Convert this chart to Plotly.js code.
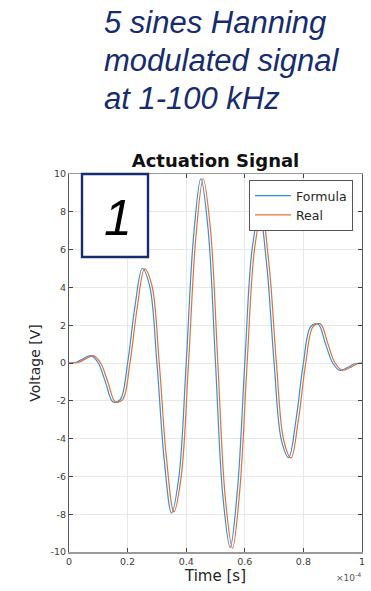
<!DOCTYPE html>
<html>
<head>
<meta charset="utf-8">
<script src="https://cdn.plot.ly/plotly-3.0.1.min.js"></script>
<style>
  html, body { margin: 0; padding: 0; background: #ffffff; }
  #chart { width: 371px; height: 591px; }
</style>
</head>
<body>
<div id="chart"></div>
<script>
// Time in units of 1e-4 s (axis shows the x10^-4 multiplier)
const timeFormula = [
  0, 0.025, 0.05, 0.075, 0.1, 0.125, 0.15, 0.175, 0.2, 0.225,
  0.25, 0.275, 0.3, 0.325, 0.35, 0.375, 0.4, 0.425, 0.45, 0.475,
  0.5, 0.525, 0.55, 0.575, 0.6, 0.625, 0.65, 0.675, 0.7, 0.725,
  0.75, 0.775, 0.8, 0.825, 0.85, 0.875, 0.9, 0.925, 0.95, 0.975, 1.0
];
const voltageFormula = [
  0, 0.04, 0.24, 0.39, 0, -1.04, -2.06, -1.93, 0, 2.98,
  5.0, 4.09, 0, -5.14, -7.94, -6.03, 0, 6.68, 9.76, 7.03,
  0, -7.03, -9.76, -6.68, 0, 6.03, 7.94, 5.14, 0, -4.09,
  -5.0, -2.98, 0, 1.93, 2.06, 1.04, 0, -0.39, -0.24, -0.04, 0
];
const timeReal = [
  0, 0.008, 0.033, 0.058, 0.083, 0.108, 0.133, 0.158, 0.183, 0.208,
  0.233, 0.258, 0.283, 0.308, 0.333, 0.358, 0.383, 0.408, 0.433, 0.458,
  0.483, 0.508, 0.533, 0.558, 0.583, 0.608, 0.633, 0.658, 0.683, 0.708,
  0.733, 0.758, 0.783, 0.808, 0.833, 0.858, 0.883, 0.908, 0.933, 0.958,
  0.983, 1.0
];
const voltageReal = [
  0, 0, 0.04, 0.23, 0.39, 0, -1.02, -2.05, -1.94, 0,
  2.95, 4.98, 4.1, 0, -5.1, -7.88, -6.0, 0, 6.65, 9.75,
  7.05, 0, -7.05, -9.8, -6.7, 0, 6.0, 7.9, 5.15, 0,
  -4.1, -5.02, -3.0, 0, 1.92, 2.07, 1.05, 0, -0.38, -0.25,
  -0.05, 0
];
const seriesNames = ['Formula', 'Real'];
const xTickVals = [0, 0.2, 0.4, 0.6, 0.8, 1];
const xTickText = ['0', '0.2', '0.4', '0.6', '0.8', '1'];
const yTickVals = [-10, -8, -6, -4, -2, 0, 2, 4, 6, 8, 10];
const yTickText = ['-10', '-8', '-6', '-4', '-2', '0', '2', '4', '6', '8', '10'];
const headingLines = ['5 sines Hanning', 'modulated signal', 'at 1-100 kHz'];
const chartTitle = 'Actuation Signal';
const xTitle = 'Time [s]';
const yTitle = 'Voltage [V]';
const xExponent = '\u00d710<sup>-4</sup>';
const panelNumber = '1';

// Page geometry
const W = 371, H = 591;
const margin = { l: 69, r: 9, t: 174, b: 39, pad: 0 };
const plotW = W - margin.l - margin.r;
const plotH = H - margin.t - margin.b;
const px = x => (x - margin.l) / plotW;   // pixel x -> paper x
const py = y => (H - margin.b - y) / plotH; // pixel y -> paper y

const blue = '#3b8fd2';
const orange = '#e2703c';
const navy = '#172c6e';
const chartFont = 'DejaVu Sans, Arial, sans-serif';
const slideFont = 'Liberation Sans, Arial, sans-serif';

const traces = [
  {
    x: timeFormula, y: voltageFormula, name: seriesNames[0],
    type: 'scatter', mode: 'lines',
    line: { color: blue, width: 1.2, shape: 'spline', smoothing: 1 }
  },
  {
    x: timeReal, y: voltageReal, name: seriesNames[1],
    type: 'scatter', mode: 'lines',
    line: { color: orange, width: 1.2, shape: 'spline', smoothing: 1 }
  }
];

const axisCommon = {
  showgrid: true, gridcolor: '#e8e8e8', gridwidth: 1,
  zeroline: false,
  ticks: 'inside', ticklen: 4, tickwidth: 1, tickcolor: '#444444',
  showline: true, mirror: 'ticks',
  tickfont: { family: chartFont, size: 9.5, color: '#3c3c3c' },
  automargin: false
};

const headingAnnotations = headingLines.map((line, i) => ({
  xref: 'paper', yref: 'paper',
  x: px(102), y: py(22 + i * 38.3),
  xanchor: 'left', yanchor: 'middle',
  text: '<i>' + line + '</i>',
  showarrow: false,
  font: { family: slideFont, size: 31, color: navy }
}));

const layout = {
  width: W, height: H,
  margin: margin,
  paper_bgcolor: '#ffffff',
  plot_bgcolor: '#ffffff',
  showlegend: true,
  title: {
    text: '<b>' + chartTitle + '</b>',
    font: { family: chartFont, size: 18, color: '#111111' },
    xref: 'paper', x: 0.5, xanchor: 'center',
    yref: 'container', y: 1 - 161 / H, yanchor: 'middle'
  },
  xaxis: Object.assign({}, axisCommon, {
    range: [0, 1],
    tickvals: xTickVals, ticktext: xTickText,
    linecolor: '#9a9a9a', linewidth: 1.5,
    title: { text: xTitle, standoff: 4, font: { family: chartFont, size: 15, color: '#262626' } }
  }),
  yaxis: Object.assign({}, axisCommon, {
    range: [-10, 10],
    tickvals: yTickVals, ticktext: yTickText,
    linecolor: '#5a5a5a', linewidth: 1,
    title: { text: yTitle, standoff: 6, font: { family: chartFont, size: 14, color: '#262626' } }
  }),
  legend: {
    xref: 'paper', yref: 'paper',
    x: px(353), y: py(180), xanchor: 'right', yanchor: 'top',
    bgcolor: '#ffffff', bordercolor: '#555555', borderwidth: 1,
    font: { family: chartFont, size: 12.5, color: '#262626' },
    itemwidth: 36,
    tracegroupgap: 0
  },
  shapes: [
    {
      type: 'rect', xref: 'paper', yref: 'paper', layer: 'above',
      x0: px(82), x1: px(148), y0: py(257), y1: py(174),
      line: { color: navy, width: 2.4 }, fillcolor: '#ffffff'
    }
  ],
  annotations: headingAnnotations.concat([
    {
      xref: 'paper', yref: 'paper',
      x: px(118), y: py(218), xanchor: 'center', yanchor: 'middle',
      text: '<i>' + panelNumber + '</i>', showarrow: false,
      font: { family: slideFont, size: 50, color: '#000000' }
    },
    {
      xref: 'paper', yref: 'paper',
      x: px(363), y: py(577), xanchor: 'right', yanchor: 'middle',
      text: xExponent, showarrow: false,
      font: { family: chartFont, size: 9, color: '#555555' }
    }
  ])
};

Plotly.newPlot('chart', traces, layout, { displayModeBar: false, staticPlot: true });
</script>
</body>
</html>
